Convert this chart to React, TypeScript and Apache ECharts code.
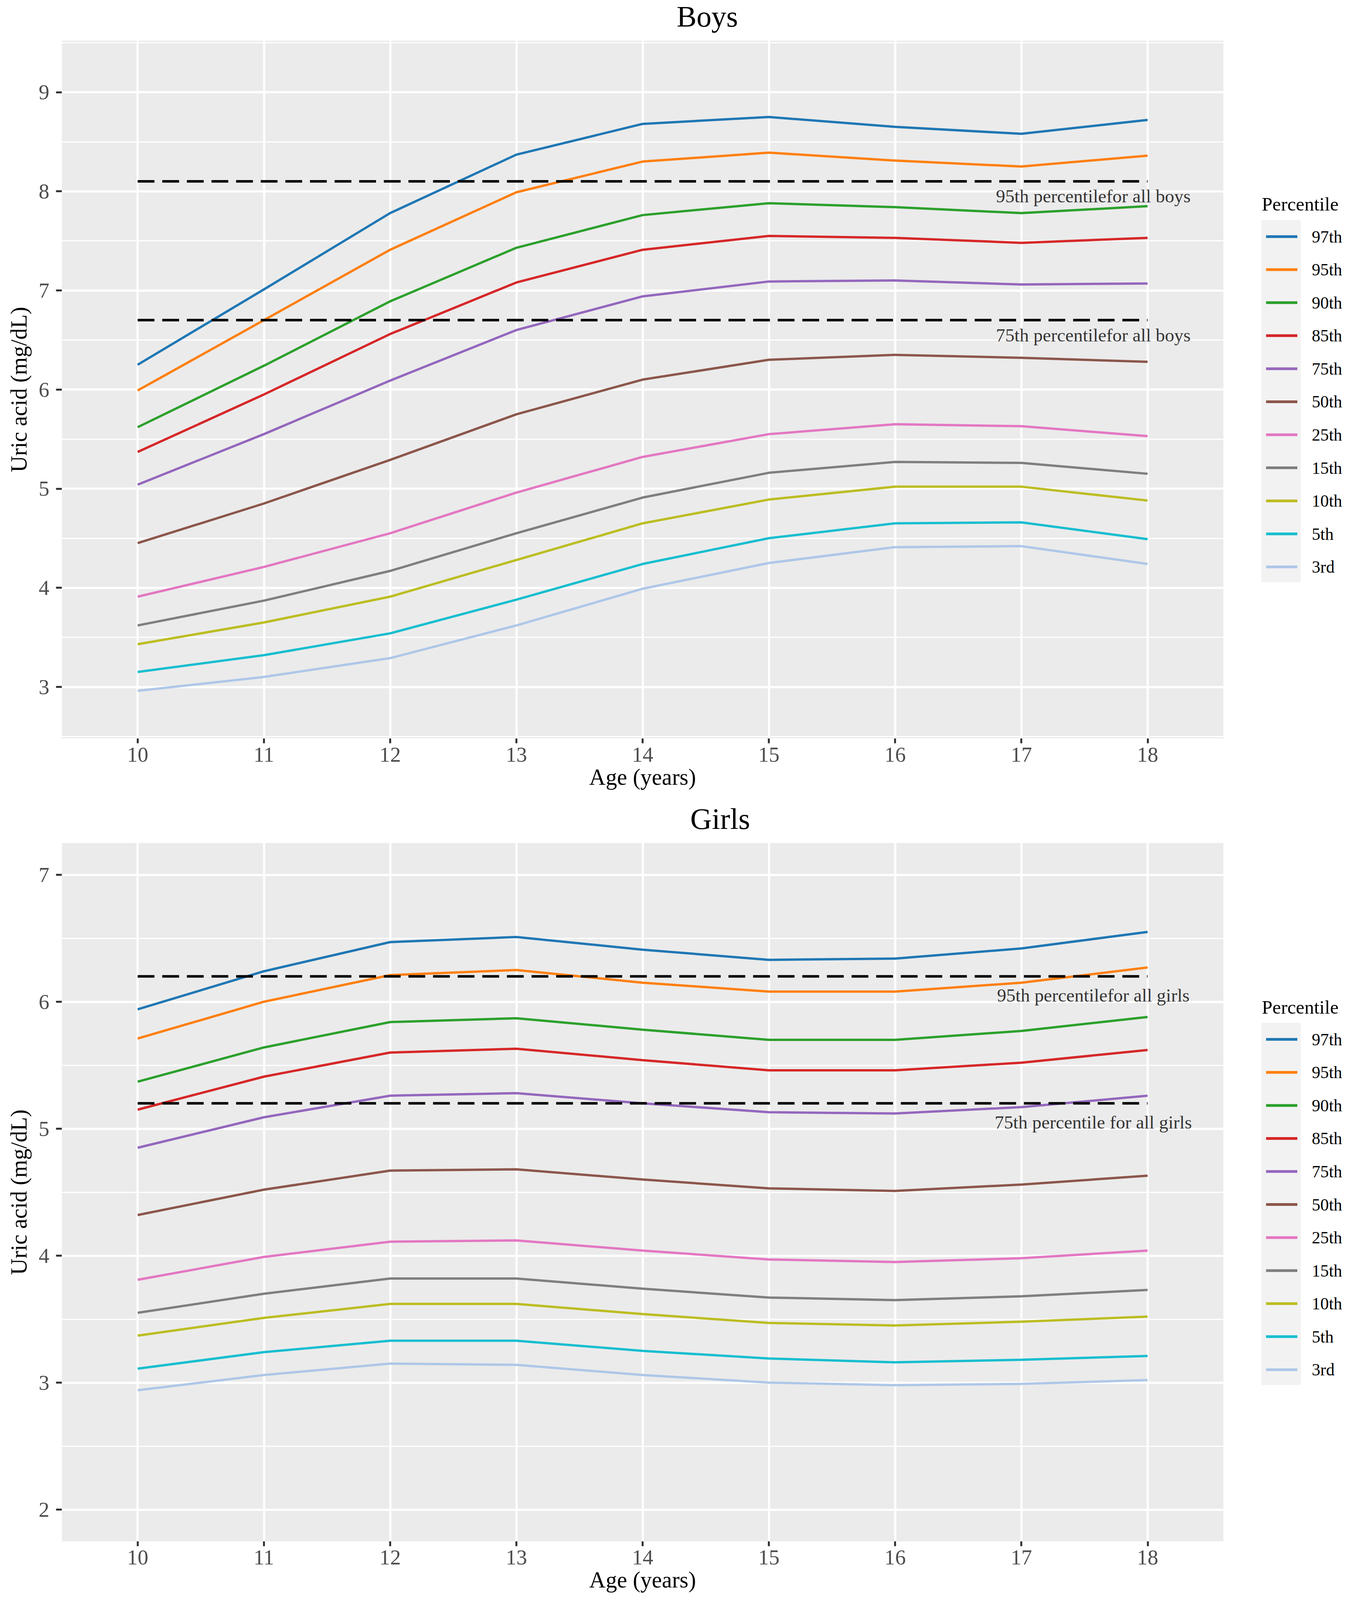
import React, { useEffect, useRef } from "react";
import * as echarts from "echarts";

const ages = [10, 11, 12, 13, 14, 15, 16, 17, 18];
const percentileNames = ["97th", "95th", "90th", "85th", "75th", "50th", "25th", "15th", "10th", "5th", "3rd"];
const percentileColors = ["#1F77B4", "#FF7F0E", "#2CA02C", "#D62728", "#9467BD", "#8C564B", "#E377C2", "#7F7F7F", "#BCBD22", "#17BECF", "#AEC7E8"];

// Boys uric acid percentiles (mg/dL), ages 10..18
const boys97 = [6.25, 7.01, 7.78, 8.37, 8.68, 8.75, 8.65, 8.58, 8.72];
const boys95 = [5.99, 6.70, 7.41, 7.99, 8.30, 8.39, 8.31, 8.25, 8.36];
const boys90 = [5.62, 6.24, 6.89, 7.43, 7.76, 7.88, 7.84, 7.78, 7.85];
const boys85 = [5.37, 5.95, 6.56, 7.08, 7.41, 7.55, 7.53, 7.48, 7.53];
const boys75 = [5.04, 5.55, 6.09, 6.60, 6.94, 7.09, 7.10, 7.06, 7.07];
const boys50 = [4.45, 4.85, 5.29, 5.75, 6.10, 6.30, 6.35, 6.32, 6.28];
const boys25 = [3.91, 4.21, 4.55, 4.96, 5.32, 5.55, 5.65, 5.63, 5.53];
const boys15 = [3.62, 3.87, 4.17, 4.55, 4.91, 5.16, 5.27, 5.26, 5.15];
const boys10 = [3.43, 3.65, 3.91, 4.28, 4.65, 4.89, 5.02, 5.02, 4.88];
const boys5 = [3.15, 3.32, 3.54, 3.88, 4.24, 4.50, 4.65, 4.66, 4.49];
const boys3 = [2.96, 3.10, 3.29, 3.62, 3.99, 4.25, 4.41, 4.42, 4.24];

// Girls uric acid percentiles (mg/dL), ages 10..18
const girls97 = [5.94, 6.24, 6.47, 6.51, 6.41, 6.33, 6.34, 6.42, 6.55];
const girls95 = [5.71, 6.00, 6.21, 6.25, 6.15, 6.08, 6.08, 6.15, 6.27];
const girls90 = [5.37, 5.64, 5.84, 5.87, 5.78, 5.70, 5.70, 5.77, 5.88];
const girls85 = [5.15, 5.41, 5.60, 5.63, 5.54, 5.46, 5.46, 5.52, 5.62];
const girls75 = [4.85, 5.09, 5.26, 5.28, 5.20, 5.13, 5.12, 5.17, 5.26];
const girls50 = [4.32, 4.52, 4.67, 4.68, 4.60, 4.53, 4.51, 4.56, 4.63];
const girls25 = [3.81, 3.99, 4.11, 4.12, 4.04, 3.97, 3.95, 3.98, 4.04];
const girls15 = [3.55, 3.70, 3.82, 3.82, 3.74, 3.67, 3.65, 3.68, 3.73];
const girls10 = [3.37, 3.51, 3.62, 3.62, 3.54, 3.47, 3.45, 3.48, 3.52];
const girls5 = [3.11, 3.24, 3.33, 3.33, 3.25, 3.19, 3.16, 3.18, 3.21];
const girls3 = [2.94, 3.06, 3.15, 3.14, 3.06, 3.00, 2.98, 2.99, 3.02];

const boysValues = [boys97, boys95, boys90, boys85, boys75, boys50, boys25, boys15, boys10, boys5, boys3];
const girlsValues = [girls97, girls95, girls90, girls85, girls75, girls50, girls25, girls15, girls10, girls5, girls3];

// Reference lines (dashed) and their labels
const boysRefValues = [8.1, 6.7];
const girlsRefValues = [6.2, 5.2];
const boysRefLabels = ["95th percentilefor all boys", "75th percentilefor all boys"];
const girlsRefLabels = ["95th percentilefor all girls", "75th percentile for all girls"];
const refLineFrom = 10;
const refLineTo = 18;
const refLabelAge = 17.57;
const refLabelOffset = 0.15;

// Axis ticks
const xTicks = [10, 11, 12, 13, 14, 15, 16, 17, 18];
const boysYTicks = [3, 4, 5, 6, 7, 8, 9];
const boysYMinor = [2.5, 3.5, 4.5, 5.5, 6.5, 7.5, 8.5, 9.5];
const girlsYTicks = [2, 3, 4, 5, 6, 7];
const girlsYMinor = [2.5, 3.5, 4.5, 5.5, 6.5];

const FONT = "Liberation Serif";
const DESIGN_W = 3465;
const DESIGN_H = 4944;

export default function App() {
  const ref = useRef<HTMLDivElement>(null);
  const vh = typeof window !== "undefined" && window.innerHeight ? window.innerHeight : DESIGN_H;
  const k = Math.min(1, vh / DESIGN_H);
  const fs = Math.sqrt(k);
  const chartH = Math.floor(DESIGN_H * k);

  useEffect(() => {
    document.body.style.margin = "0";
    if (!ref.current) return;
    const chart = echarts.init(ref.current, null, { renderer: "svg" });
    const Y = (v: number) => v * k;

    const panels = [
      {
        title: "Boys", titleX: 1810, titleY: 51.5,
        top: 125.6, height: 2156.1, yMin: 2.48, yMax: 9.52,
        yTicks: boysYTicks, yMinor: boysYMinor, values: boysValues,
        refValues: boysRefValues, refLabels: boysRefLabels,
        legendTitleY: 631, keyTop: 680, keyHeight: 1119,
      },
      {
        title: "Girls", titleX: 1843, titleY: 2531,
        top: 2605, height: 2157.7, yMin: 1.75, yMax: 7.25,
        yTicks: girlsYTicks, yMinor: girlsYMinor, values: girlsValues,
        refValues: girlsRefValues, refLabels: girlsRefLabels,
        legendTitleY: 3112.6, keyTop: 3160.6, keyHeight: 1119,
      },
    ];

    const gridLeft = 158.4;
    const gridWidth = 2972.2;
    const tickFont = 60 * fs;
    const legendFont = 48 * fs;

    const grids: any[] = [];
    const xAxes: any[] = [];
    const yAxes: any[] = [];
    const series: any[] = [];
    const legends: any[] = [];
    const graphics: any[] = [];

    panels.forEach((p, pi) => {
      const top = Y(p.top);
      const height = Y(p.height);
      grids.push({
        left: gridLeft, top, width: gridWidth, height,
        show: true, backgroundColor: "#EBEBEB", borderWidth: 0, containLabel: false,
      });
      xAxes.push({
        type: "value", gridIndex: pi, min: 9.4, max: 18.6,
        axisLine: { show: false },
        splitLine: { show: false },
        axisTick: { show: true, length: 15 * k, customValues: xTicks, lineStyle: { color: "#333333", width: 5 } },
        axisLabel: {
          show: true, customValues: xTicks, margin: Math.max(4, 49.3 * k - tickFont / 2),
          fontFamily: FONT, fontSize: tickFont, color: "#4D4D4D",
        },
      });
      yAxes.push({
        type: "value", gridIndex: pi, min: p.yMin, max: p.yMax,
        axisLine: { show: false },
        splitLine: { show: false },
        axisTick: { show: true, length: 15, customValues: p.yTicks, lineStyle: { color: "#333333", width: 5 } },
        axisLabel: { show: true, customValues: p.yTicks, margin: 32, fontFamily: FONT, fontSize: tickFont, color: "#4D4D4D" },
      });

      // gridlines drawn through the axes' scales
      series.push({
        type: "line", name: "grid-" + pi, xAxisIndex: pi, yAxisIndex: pi, data: [],
        silent: true,
        markLine: {
          z: 1, silent: true, symbol: "none", animation: false,
          label: { show: false },
          data: [
            ...p.yMinor.map((v) => ({ yAxis: v, lineStyle: { color: "#FFFFFF", width: 2.8, type: "solid" } })),
            ...p.yTicks.map((v) => ({ yAxis: v, lineStyle: { color: "#FFFFFF", width: 5.5, type: "solid" } })),
            ...xTicks.map((v) => ({ xAxis: v, lineStyle: { color: "#FFFFFF", width: 5.5, type: "solid" } })),
          ],
        },
      });

      percentileNames.forEach((name, i) => {
        series.push({
          type: "line", name, xAxisIndex: pi, yAxisIndex: pi, z: 2,
          data: ages.map((a, j) => [a, p.values[i][j]]),
          symbol: "none", showSymbol: false, silent: true,
          lineStyle: { color: percentileColors[i], width: 6 },
          itemStyle: { color: percentileColors[i] },
        });
      });

      p.refValues.forEach((v, kk) => {
        series.push({
          type: "line", name: "ref-" + pi + "-" + kk, xAxisIndex: pi, yAxisIndex: pi, z: 3,
          data: [[refLineFrom, v], [refLineTo, v]],
          symbol: "none", silent: true,
          lineStyle: { color: "#000000", width: 6.5, type: [43, 20] },
        });
        series.push({
          type: "scatter", name: "label-" + pi + "-" + kk, xAxisIndex: pi, yAxisIndex: pi, z: 4,
          data: [[refLabelAge, v - refLabelOffset]],
          symbolSize: 0, silent: true,
          label: {
            show: true, position: "inside", formatter: p.refLabels[kk],
            fontFamily: FONT, fontSize: 52 * fs, color: "#000000", align: "center", verticalAlign: "middle",
          },
        });
      });

      legends.push({
        orient: "vertical", left: 3240, top: Y(p.keyTop + 50.85) - legendFont / 2, padding: 0,
        icon: "rect", itemWidth: 80, itemHeight: 7, itemGap: Y(101.7) - legendFont, selectedMode: false,
        data: percentileNames, z: 5,
        textStyle: { fontFamily: FONT, fontSize: legendFont, color: "#000000", lineHeight: legendFont, padding: [0, 0, 0, 32] },
      });

      graphics.push({
        type: "rect", z: 0, silent: true,
        shape: { x: 3228, y: Y(p.keyTop), width: 101, height: Y(p.keyHeight) },
        style: { fill: "#F2F2F2" },
      });
      graphics.push({
        type: "text", z: 10, silent: true, x: 3229, y: Y(p.legendTitleY),
        style: { text: "Percentile", fontFamily: FONT, fontSize: 54 * fs, fill: "#000000", align: "left", verticalAlign: "middle" },
      });
      graphics.push({
        type: "text", z: 10, silent: true, x: p.titleX, y: Y(p.titleY),
        style: { text: p.title, fontFamily: FONT, fontSize: 84 * fs, fill: "#000000", align: "center", verticalAlign: "middle" },
      });
      graphics.push({
        type: "text", z: 10, silent: true, x: gridLeft + gridWidth / 2, y: Y(p.top + p.height + 119.3),
        style: { text: "Age (years)", fontFamily: FONT, fontSize: 64 * fs, fill: "#000000", align: "center", verticalAlign: "middle" },
      });
      graphics.push({
        type: "text", z: 10, silent: true, x: 48, y: top + height / 2, rotation: Math.PI / 2,
        style: { text: "Uric acid (mg/dL)", fontFamily: FONT, fontSize: 64 * fs, fill: "#000000", align: "center", verticalAlign: "middle" },
      });
    });

    chart.setOption({
      animation: false,
      backgroundColor: "#FFFFFF",
      textStyle: { fontFamily: FONT },
      grid: grids,
      xAxis: xAxes,
      yAxis: yAxes,
      legend: legends,
      series,
      graphic: { elements: graphics },
    });

    return () => chart.dispose();
  }, []);

  return <div ref={ref} style={{ width: DESIGN_W, height: chartH }} />;
}
